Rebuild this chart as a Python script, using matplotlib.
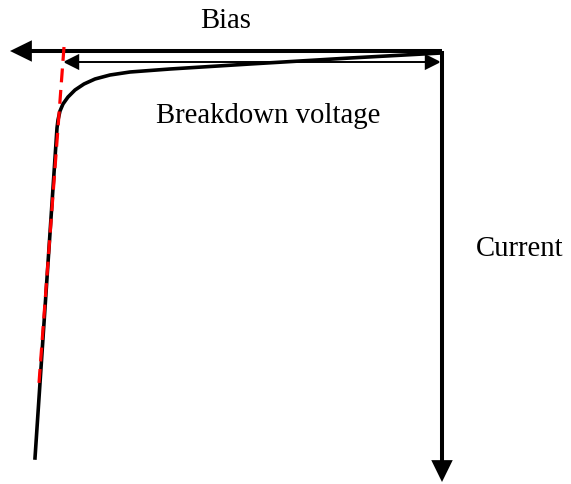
import matplotlib.pyplot as plt
from matplotlib.patches import FancyArrowPatch

plt.rcParams['font.family'] = ['Liberation Serif', 'DejaVu Serif']
plt.rcParams['lines.scale_dashes'] = False

# 画布坐标 (像素, y 向下)
W, H = 571, 484

# 击穿曲线
curve_x = [441, 350, 250, 170, 130, 110, 95, 84, 75, 68, 63, 60, 58, 57, 35]
curve_y = [53, 58, 64, 69, 72, 75, 79, 84, 90, 97, 104, 111, 120, 128, 458]

# 红色虚线 (切线)
tangent_x = [64, 39]
tangent_y = [47, 383]

# 坐标轴箭头
origin = (442, 51)
bias_end = (10, 51)
current_end = (442, 482)
bd_left, bd_right, bd_y = 63, 441, 62

labels = ['Bias', 'Breakdown voltage', 'Current']
label_pos = [(226, 28), (268, 123), (520, 256)]

fig = plt.figure(figsize=(W / 100, H / 100), dpi=100)
ax = fig.add_axes([0, 0, 1, 1])
ax.set_xlim(0, W)
ax.set_ylim(H, 0)
ax.axis('off')

def arrow(p0, p1, style, lw):
    a = FancyArrowPatch(p0, p1, arrowstyle=style, mutation_scale=1,
                        lw=lw, color='black', shrinkA=0, shrinkB=0,
                        joinstyle='miter', capstyle='butt')
    ax.add_patch(a)

arrow(origin, bias_end, '-|>,head_length=11,head_width=5.4', 2.9)
arrow(origin, current_end, '-|>,head_length=11,head_width=5.4', 2.9)
arrow((bd_left, bd_y), (bd_right, bd_y), '<|-|>,head_length=9.4,head_width=4.7', 1.4)

ax.plot(curve_x, curve_y, color='black', lw=2.6, solid_joinstyle='round')
ax.plot(tangent_x, tangent_y, color='#ff0000', lw=2.3, dashes=(10, 5.5))

for txt, (x, y) in zip(labels, label_pos):
    ax.text(x, y, txt, fontsize=20.7, ha='center', va='baseline', color='black')

plt.savefig('out.png', dpi=100)
